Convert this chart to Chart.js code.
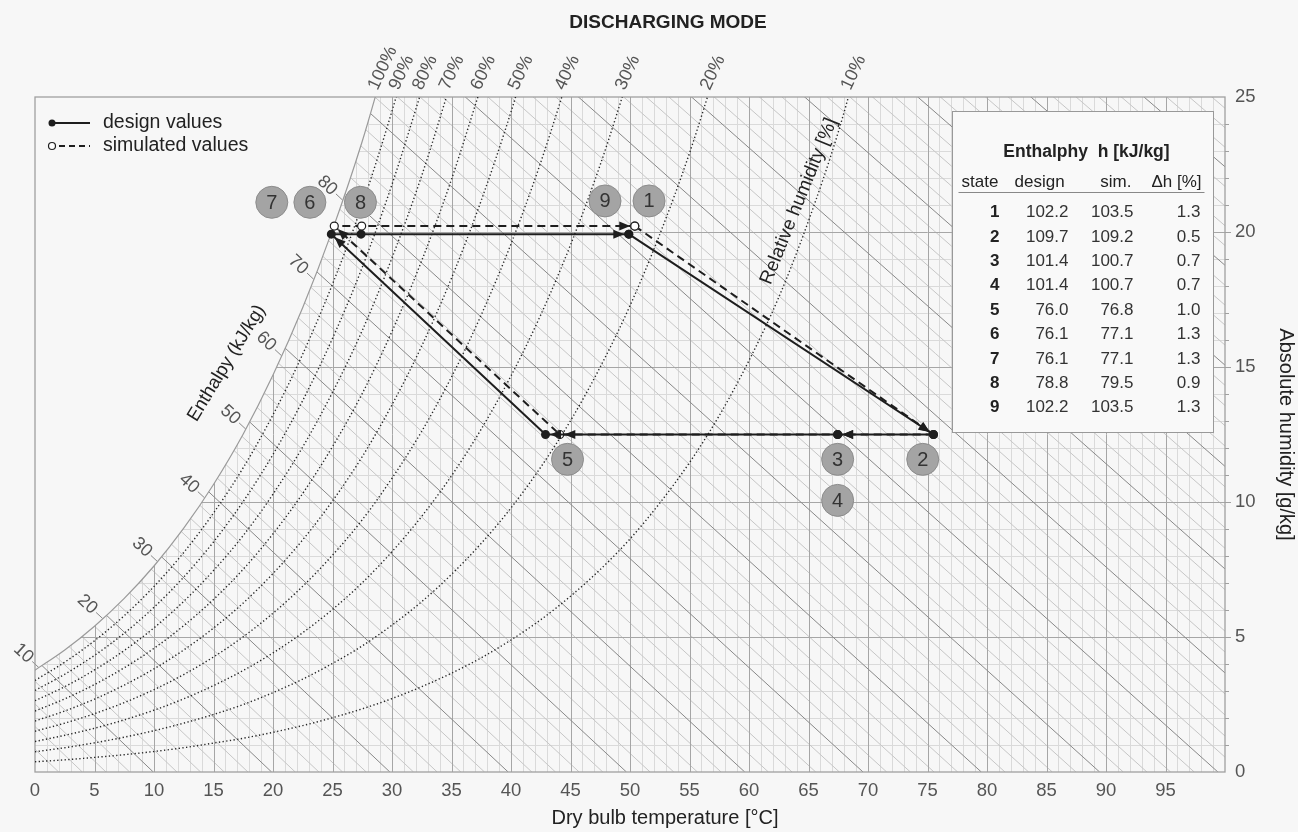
<!DOCTYPE html>
<html lang="en">
<head>
<meta charset="UTF-8">
<title>Discharging mode</title>
<script src="https://cdn.jsdelivr.net/npm/chart.js"></script>
<style>
  html, body { margin: 0; padding: 0; background: #f7f7f7; }
</style>
</head>
<body>
<canvas id="psychro" width="1298" height="832"></canvas>
<script>
// ---- values ----
// relative humidity curves: absolute humidity [g/kg] at these temperatures
const rhTemps = [0, 2.5, 5, 7.5, 10, 12.5, 15, 17.5, 20, 22.5, 25, 27.5, 30, 32.5, 35, 37.5, 40, 42.5, 45, 47.5, 50, 52.5, 55, 57.5, 60, 62.5, 65, 67.5, 70];
const rh100 = [3.77, 4.52, 5.40, 6.43, 7.63, 9.03, 10.65, 12.52, 14.70, 17.20, 20.08, 23.36, 27.20];
const rh90 = [3.39, 4.07, 4.86, 5.79, 6.87, 8.13, 9.59, 11.27, 13.23, 15.48, 18.07, 21.02, 24.48, 28.40];
const rh80 = [3.02, 3.62, 4.32, 5.14, 6.10, 7.22, 8.52, 10.02, 11.76, 13.76, 16.06, 18.69, 21.76, 25.25];
const rh70 = [2.64, 3.16, 3.78, 4.50, 5.34, 6.32, 7.46, 8.76, 10.29, 12.04, 14.06, 16.35, 19.04, 22.09, 25.61];
const rh60 = [2.26, 2.71, 3.24, 3.86, 4.58, 5.42, 6.39, 7.51, 8.82, 10.32, 12.05, 14.02, 16.32, 18.94, 21.95, 25.40];
const rh50 = [1.89, 2.26, 2.70, 3.22, 3.82, 4.52, 5.33, 6.26, 7.35, 8.60, 10.04, 11.68, 13.60, 15.78, 18.29, 21.17, 24.45, 28.22];
const rh40 = [1.51, 1.81, 2.16, 2.57, 3.05, 3.61, 4.26, 5.01, 5.88, 6.88, 8.03, 9.34, 10.88, 12.62, 14.63, 16.93, 19.56, 22.58, 26.02];
const rh30 = [1.13, 1.36, 1.62, 1.93, 2.29, 2.71, 3.20, 3.76, 4.41, 5.16, 6.02, 7.01, 8.16, 9.47, 10.97, 12.70, 14.67, 16.93, 19.52, 22.49, 25.90];
const rh20 = [0.75, 0.90, 1.08, 1.29, 1.53, 1.81, 2.13, 2.50, 2.94, 3.44, 4.02, 4.67, 5.44, 6.31, 7.32, 8.47, 9.78, 11.29, 13.01, 15.00, 17.27, 19.91, 22.92, 26.40];
const rh10 = [0.38, 0.45, 0.54, 0.64, 0.76, 0.90, 1.07, 1.25, 1.47, 1.72, 2.01, 2.34, 2.72, 3.16, 3.66, 4.23, 4.89, 5.64, 6.51, 7.50, 8.63, 9.96, 11.46, 13.20, 15.24, 17.58, 20.41, 23.70, 27.66];
const rhCurves = [rh100, rh90, rh80, rh70, rh60, rh50, rh40, rh30, rh20, rh10];
const rhLabels = ['100%', '90%', '80%', '70%', '60%', '50%', '40%', '30%', '20%', '10%'];

// enthalpy lines labelled along the saturation curve [kJ/kg]
const enthalpyLabels = [10, 20, 30, 40, 50, 60, 70, 80];

// cycle: states 1 -> 2 -> 3(4) -> 5 -> 6(7) -> 8 -> 9(1)
const designTemp = [49.9, 75.5, 67.45, 42.9, 24.9, 27.4, 49.9];
const designHum  = [19.92, 12.5, 12.5, 12.5, 19.92, 19.92, 19.92];
const simTemp    = [50.4, 75.5, 67.45, 44.1, 25.15, 27.45, 50.4];
const simHum     = [20.22, 12.5, 12.5, 12.5, 20.22, 20.22, 20.22];
const arrowAtPoint = [1, 2, 3, 4, 6];

// grey state markers
const stateNames = ['7', '6', '8', '9', '1', '5', '3', '2', '4'];
const stateTemp  = [19.9, 23.1, 27.35, 47.9, 51.6, 44.75, 67.45, 74.6, 67.45];
const stateHum   = [21.1, 21.1, 21.1, 21.15, 21.15, 11.58, 11.58, 11.58, 10.06];

// table
const tableStates = [1, 2, 3, 4, 5, 6, 7, 8, 9];
const tableDesign = [102.2, 109.7, 101.4, 101.4, 76.0, 76.1, 76.1, 78.8, 102.2];
const tableSim    = [103.5, 109.2, 100.7, 100.7, 76.8, 77.1, 77.1, 79.5, 103.5];
const tableDelta  = [1.3, 0.5, 0.7, 0.7, 1.0, 1.3, 1.3, 0.9, 1.3];

const FONT = '"Liberation Sans", Arial, Helvetica, sans-serif';

function enthalpy(t, w) { return 1.006 * t + w * (2.501 + 0.00186 * t); }
function tempAt(h, w) { return (h - 2.501 * w) / (1.006 + 0.00186 * w); }

function toPoints(temps, hums) {
  return hums.map((w, i) => ({ x: temps[i], y: w }));
}

// where a curve crosses a given humidity (linear between read points)
function crossingTemp(curve, level) {
  for (let i = 1; i < curve.length; i++) {
    if (curve[i] >= level) {
      const f = (level - curve[i - 1]) / (curve[i] - curve[i - 1]);
      return rhTemps[i - 1] + f * (rhTemps[i] - rhTemps[i - 1]);
    }
  }
  return null;
}

// where an enthalpy line meets the saturation curve
function saturationCrossing(h) {
  for (let i = 1; i < rh100.length; i++) {
    const h0 = enthalpy(rhTemps[i - 1], rh100[i - 1]);
    const h1 = enthalpy(rhTemps[i], rh100[i]);
    if (h1 >= h) {
      const f = (h - h0) / (h1 - h0);
      return { t: rhTemps[i - 1] + f * (rhTemps[i] - rhTemps[i - 1]), w: rh100[i - 1] + f * (rh100[i] - rh100[i - 1]) };
    }
  }
  return null;
}

const datasets = [];

datasets.push({
  label: 'states', data: toPoints(stateTemp, stateHum), showLine: false,
  pointRadius: 16, pointHoverRadius: 16, pointBackgroundColor: '#a4a4a4',
  pointBorderColor: '#8c8c8c', pointBorderWidth: 1, order: 0
});
datasets.push({
  label: 'design values', data: toPoints(designTemp, designHum),
  borderColor: '#1e1e1e', borderWidth: 2, pointRadius: 3.5,
  pointBackgroundColor: '#1e1e1e', pointBorderColor: '#1e1e1e', order: 1
});
datasets.push({
  label: 'simulated values', data: toPoints(simTemp, simHum),
  borderColor: '#1e1e1e', borderWidth: 2, borderDash: [8, 5], pointRadius: 4,
  pointBackgroundColor: '#ffffff', pointBorderColor: '#1e1e1e', pointBorderWidth: 1.2, order: 2
});
rhCurves.forEach((curve, i) => {
  datasets.push({
    label: rhLabels[i], data: toPoints(rhTemps, curve),
    borderColor: i === 0 ? '#9a9a9a' : '#262626',
    borderWidth: i === 0 ? 1.2 : 1.4,
    borderDash: i === 0 ? [] : [1.3, 2.4],
    cubicInterpolationMode: 'monotone', pointRadius: 0, order: 5
  });
});
const SAT_INDEX = 3;

const backgroundPlugin = {
  id: 'bg',
  beforeDraw(chart) {
    const ctx = chart.ctx;
    ctx.save();
    ctx.fillStyle = '#f7f7f7';
    ctx.fillRect(0, 0, chart.width, chart.height);
    ctx.restore();
  }
};

function strokeLine(ctx, x1, y1, x2, y2) {
  ctx.beginPath();
  ctx.moveTo(x1, y1);
  ctx.lineTo(x2, y2);
  ctx.stroke();
}

const gridPlugin = {
  id: 'psychroGrid',
  beforeDatasetsDraw(chart) {
    const { ctx, chartArea: a, scales: { x, y } } = chart;
    const satMeta = chart.getDatasetMeta(SAT_INDEX);
    const px = t => Math.round(x.getPixelForValue(t)) + 0.5;
    const py = w => Math.round(y.getPixelForValue(w)) + 0.5;

    ctx.save();
    ctx.beginPath();
    ctx.rect(a.left, a.top, a.right - a.left, a.bottom - a.top);
    ctx.clip();

    // region under the saturation curve
    ctx.beginPath();
    const line = satMeta.dataset;
    line.updateControlPoints(a, 'x');
    line.path(ctx);
    const pts = satMeta.data;
    const last = pts[pts.length - 1];
    ctx.lineTo(a.right + 5, last.y);
    ctx.lineTo(a.right + 5, a.bottom + 5);
    ctx.lineTo(a.left, a.bottom + 5);
    ctx.closePath();
    ctx.clip();

    ctx.lineWidth = 1;
    // minor grid
    ctx.strokeStyle = '#dadada';
    for (let t = 1; t < 100; t++) {
      if (t % 5) strokeLine(ctx, px(t), a.top, px(t), a.bottom);
    }
    for (let w = 1; w < 25; w++) {
      if (w % 5) strokeLine(ctx, a.left, py(w), a.right, py(w));
    }
    // minor enthalpy lines
    ctx.strokeStyle = '#c6c6c6';
    for (let h = 2; h <= 170; h += 2) {
      if (h % 10 === 0) continue;
      strokeLine(ctx, x.getPixelForValue(tempAt(h, 0)), y.getPixelForValue(0),
                 x.getPixelForValue(tempAt(h, 30)), y.getPixelForValue(30));
    }
    // major grid
    ctx.strokeStyle = '#a6a6a6';
    for (let t = 5; t < 100; t += 5) strokeLine(ctx, px(t), a.top, px(t), a.bottom);
    for (let w = 5; w < 25; w += 5) strokeLine(ctx, a.left, py(w), a.right, py(w));
    // major enthalpy lines
    ctx.strokeStyle = '#888';
    for (let h = 10; h <= 170; h += 10) {
      strokeLine(ctx, x.getPixelForValue(tempAt(h, 0)), y.getPixelForValue(0),
                 x.getPixelForValue(tempAt(h, 30)), y.getPixelForValue(30));
    }
    ctx.restore();

    // enthalpy ticks and labels beyond the saturation curve
    ctx.save();
    ctx.strokeStyle = '#888';
    ctx.lineWidth = 1;
    ctx.fillStyle = '#555';
    ctx.font = '18px ' + FONT;
    ctx.textAlign = 'center';
    ctx.textBaseline = 'middle';
    enthalpyLabels.forEach(h => {
      const c = saturationCrossing(h);
      if (!c) return;
      const x0 = x.getPixelForValue(c.t), y0 = y.getPixelForValue(c.w);
      const x1 = x.getPixelForValue(tempAt(h, c.w + 1)), y1 = y.getPixelForValue(c.w + 1);
      const len = Math.hypot(x1 - x0, y1 - y0);
      const ux = (x1 - x0) / len, uy = (y1 - y0) / len;
      strokeLine(ctx, x0, y0, x0 + ux * 9, y0 + uy * 9);
      ctx.save();
      ctx.translate(x0 + ux * 21, y0 + uy * 21);
      ctx.rotate(Math.atan2(-uy, -ux));
      ctx.fillText(String(h), 0, 0);
      ctx.restore();
    });
    ctx.restore();

    // frame and right-hand ticks
    ctx.save();
    ctx.strokeStyle = '#a0a0a0';
    ctx.lineWidth = 1.3;
    ctx.strokeRect(a.left, a.top, a.right - a.left, a.bottom - a.top);
    ctx.lineWidth = 1;
    for (let w = 1; w < 25; w++) strokeLine(ctx, a.right, py(w), a.right + (w % 5 ? 4 : 6), py(w));
    ctx.restore();
  }
};

function drawArrow(ctx, from, to, back) {
  const dx = to.x - from.x, dy = to.y - from.y;
  const len = Math.hypot(dx, dy);
  const ux = dx / len, uy = dy / len;
  const tx = to.x - ux * back, ty = to.y - uy * back;
  ctx.beginPath();
  ctx.moveTo(tx, ty);
  ctx.lineTo(tx - ux * 11 - uy * 4.5, ty - uy * 11 + ux * 4.5);
  ctx.lineTo(tx - ux * 11 + uy * 4.5, ty - uy * 11 - ux * 4.5);
  ctx.closePath();
  ctx.fill();
}

const overlayPlugin = {
  id: 'overlay',
  afterDatasetsDraw(chart) {
    const { ctx, chartArea: a, scales: { x, y } } = chart;

    // arrowheads
    ctx.save();
    ctx.fillStyle = '#1e1e1e';
    [1, 2].forEach(di => {
      const pts = chart.getDatasetMeta(di).data;
      arrowAtPoint.forEach(i => drawArrow(ctx, pts[i - 1], pts[i], 4.5));
    });
    ctx.restore();

    // numbers inside the grey state circles
    ctx.save();
    ctx.fillStyle = '#333';
    ctx.font = '20px ' + FONT;
    ctx.textAlign = 'center';
    ctx.textBaseline = 'middle';
    chart.getDatasetMeta(0).data.forEach((p, i) => ctx.fillText(stateNames[i], p.x, p.y + 1));
    ctx.restore();

    // relative humidity labels above the frame
    ctx.save();
    ctx.fillStyle = '#555';
    ctx.font = '18px ' + FONT;
    ctx.textAlign = 'left';
    ctx.textBaseline = 'middle';
    rhCurves.forEach((curve, i) => {
      const t = crossingTemp(curve, 25);
      if (t === null) return;
      ctx.save();
      ctx.translate(x.getPixelForValue(t) - 2, a.top - 8);
      ctx.rotate(-65 * Math.PI / 180);
      ctx.fillText(rhLabels[i], 0, 0);
      ctx.restore();
    });
    ctx.restore();

    // rotated notes inside the chart
    ctx.save();
    ctx.fillStyle = '#222';
    ctx.textAlign = 'center';
    ctx.textBaseline = 'middle';
    ctx.font = '19px ' + FONT;
    ctx.save();
    ctx.translate(x.getPixelForValue(64.2), y.getPixelForValue(21.14));
    ctx.rotate(-68 * Math.PI / 180);
    ctx.fillText('Relative humidity [%]', 0, 0);
    ctx.restore();
    ctx.font = '18.5px ' + FONT;
    ctx.save();
    ctx.translate(x.getPixelForValue(16.1), y.getPixelForValue(15.14));
    ctx.rotate(-58.6 * Math.PI / 180);
    ctx.fillText('Enthalpy (kJ/kg)', 0, 0);
    ctx.restore();
    ctx.restore();

    // title and x axis title (both sit right of the plot centre in the original)
    ctx.save();
    ctx.fillStyle = '#222';
    ctx.textAlign = 'center';
    ctx.textBaseline = 'middle';
    ctx.font = 'bold 19px ' + FONT;
    ctx.fillText('DISCHARGING MODE', 668, 23);
    ctx.font = '20px ' + FONT;
    ctx.fillText('Dry bulb temperature [°C]', 665, 818);
    ctx.restore();

    // legend
    ctx.save();
    const lx = a.left + 17, ly = a.top + 26;
    ctx.strokeStyle = '#1e1e1e';
    ctx.fillStyle = '#1e1e1e';
    ctx.lineWidth = 2;
    strokeLine(ctx, lx, ly, lx + 38, ly);
    ctx.beginPath(); ctx.arc(lx, ly, 3.5, 0, Math.PI * 2); ctx.fill();
    ctx.setLineDash([6, 4]);
    strokeLine(ctx, lx + 7, ly + 23, lx + 38, ly + 23);
    ctx.setLineDash([]);
    ctx.lineWidth = 1.2;
    ctx.fillStyle = '#fff';
    ctx.beginPath(); ctx.arc(lx, ly + 23, 3.5, 0, Math.PI * 2); ctx.fill(); ctx.stroke();
    ctx.fillStyle = '#222';
    ctx.font = '19.5px ' + FONT;
    ctx.textBaseline = 'middle';
    ctx.fillText('design values', lx + 51, ly);
    ctx.fillText('simulated values', lx + 51, ly + 23);
    ctx.restore();

    // enthalpy table
    ctx.save();
    const bx = Math.round(x.getPixelForValue(77.05)) + 0.5;
    const by = Math.round(y.getPixelForValue(24.47)) + 0.5;
    const bw = 261, bh = 321;
    ctx.fillStyle = '#f9f9f9';
    ctx.fillRect(bx, by, bw, bh);
    ctx.strokeStyle = '#999';
    ctx.lineWidth = 1;
    ctx.strokeRect(bx, by, bw, bh);
    ctx.fillStyle = '#222';
    ctx.textBaseline = 'middle';
    ctx.font = 'bold 17.5px ' + FONT;
    ctx.textAlign = 'center';
    ctx.fillText('Enthalphy  h [kJ/kg]', bx + 134, by + 41);
    ctx.font = '17px ' + FONT;
    ctx.textAlign = 'left';
    ctx.fillText('state', bx + 9, by + 71);
    ctx.fillText('design', bx + 62, by + 71);
    ctx.textAlign = 'right';
    ctx.fillText('sim.', bx + 179, by + 71);
    ctx.fillText('\u0394h [%]', bx + 249, by + 71);
    ctx.strokeStyle = '#888';
    strokeLine(ctx, bx + 6, by + 81, bx + 252, by + 81);
    tableStates.forEach((s, i) => {
      const ry = by + 101 + i * 24.4;
      ctx.font = 'bold 17px ' + FONT;
      ctx.fillStyle = '#222';
      ctx.fillText(String(s), bx + 47, ry);
      ctx.font = '17px ' + FONT;
      ctx.fillStyle = '#333';
      ctx.fillText(tableDesign[i].toFixed(1), bx + 116, ry);
      ctx.fillText(tableSim[i].toFixed(1), bx + 181, ry);
      ctx.fillText(tableDelta[i].toFixed(1), bx + 248, ry);
    });
    ctx.restore();
  }
};

new Chart(document.getElementById('psychro'), {
  type: 'line',
  data: { datasets: datasets },
  options: {
    responsive: false,
    animation: false,
    events: [],
    layout: { padding: { left: 35, top: 97, right: 0, bottom: 0 } },
    plugins: { legend: { display: false }, tooltip: { enabled: false }, title: { display: false } },
    scales: {
      x: {
        type: 'linear', position: 'bottom', min: 0, max: 100,
        grid: { display: false, drawTicks: false },
        border: { display: false },
        ticks: {
          stepSize: 5, padding: 8, autoSkip: false, maxRotation: 0,
          color: '#555', font: { size: 18.5, family: FONT },
          callback: v => (v >= 100 ? '' : v)
        },
        title: { display: false },
        afterFit: s => { s.height = 60; }
      },
      y: {
        type: 'linear', position: 'right', min: 0, max: 25,
        grid: { display: false, drawTicks: false },
        border: { display: false },
        ticks: { stepSize: 5, padding: 10, color: '#555', font: { size: 18.5, family: FONT } },
        title: {
          display: true, text: 'Absolute humidity [g/kg]', color: '#222',
          font: { size: 20, family: FONT }, padding: { top: 0, bottom: 0 }
        },
        afterFit: s => { s.width = 73; }
      }
    }
  },
  plugins: [backgroundPlugin, gridPlugin, overlayPlugin]
});
</script>
</body>
</html>
